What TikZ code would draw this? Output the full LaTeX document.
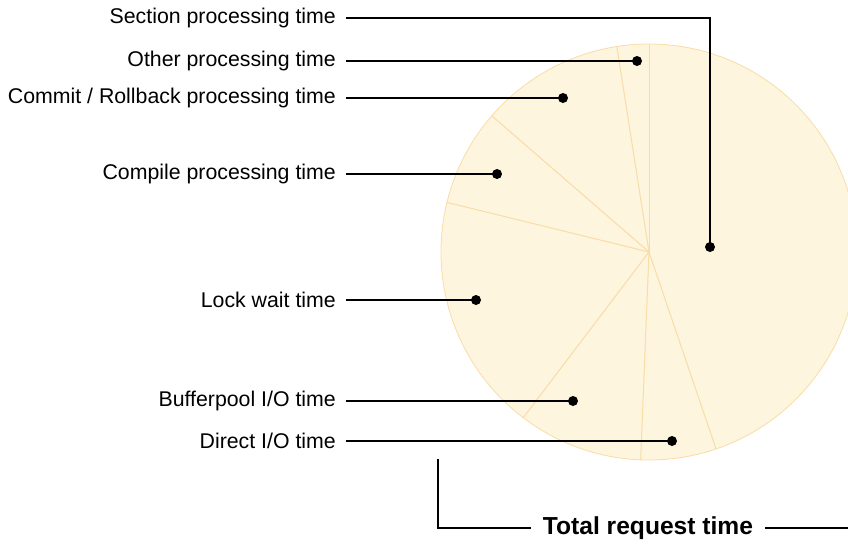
\documentclass[tikz,border=0pt]{standalone}
\usepackage{fontspec}
\setmainfont{Liberation Sans}
\definecolor{piefill}{HTML}{FEF5DF}
\definecolor{pieline}{HTML}{F9DCA6}
\tikzset{lbl/.style={anchor=east,inner xsep=10pt,inner ysep=0pt,font=\fontsize{21.3}{25}\selectfont}}
\tikzset{dot/.style={circle,fill=black,inner sep=0pt,minimum size=10pt}}
\tikzset{lead/.style={line width=1.8pt}}

\begin{document}
\begin{tikzpicture}[x=1pt,y=-1pt]
      \useasboundingbox (0,0) rectangle (848,544);
      % pie
      \coordinate (O) at (649,252);
      \fill[piefill] (O) circle (208);
      \draw[pieline,line width=0.8pt] (O) circle (208);
      \foreach \a in {90,98.9,139.1,166.2,232.8,267.7,288.8}
        \draw[pieline,line width=1pt] (O) -- ++(-\a:208);
      % labels
      \node[lbl] (sec) at (346,18) {Section processing time};
      \node[lbl] (oth) at (346,61) {Other processing time};
      \node[lbl] (com) at (346,98) {Commit / Rollback processing time};
      \node[lbl] (cmp) at (346,174) {Compile processing time};
      \node[lbl] (lck) at (346,300) {Lock wait time};
      \node[lbl] (buf) at (346,401) {Bufferpool I/O time};
      \node[lbl] (dir) at (346,441) {Direct I/O time};
      % dots
      \node[dot] (secd) at (710,247) {};
      \node[dot] (othd) at (637,61) {};
      \node[dot] (comd) at (563,98) {};
      \node[dot] (cmpd) at (497,174) {};
      \node[dot] (lckd) at (476,300) {};
      \node[dot] (bufd) at (573,401) {};
      \node[dot] (dird) at (672,441) {};
      \draw[lead] (sec.east) -| (secd.center);
      \foreach \a/\b in {oth/othd,com/comd,cmp/cmpd,lck/lckd,buf/bufd,dir/dird}
        \draw[lead] (\a.east) -- (\b.center);
      % total
      \node[anchor=center,inner xsep=12pt,font=\fontsize{24.6}{28}\selectfont\bfseries] (tot) at (648,528) {Total request time};
      \coordinate (tl) at (438,459);
      \coordinate (tr) at (848,528);
      \draw[lead] (tl) |- (tot.west);
      \draw[lead] (tot.east) -- (tr);
\end{tikzpicture}
\end{document}
